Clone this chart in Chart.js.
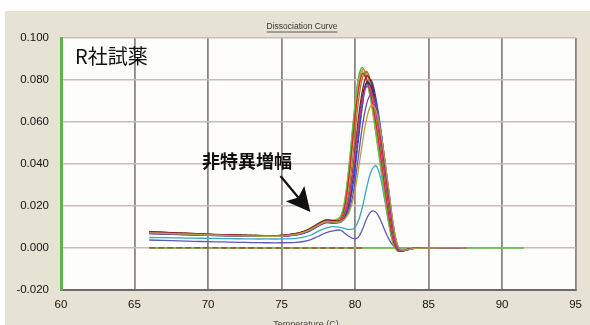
<!DOCTYPE html>
<html>
<head>
<meta charset="utf-8">
<script src="https://cdn.jsdelivr.net/npm/chart.js@4"></script>
<style>
  body { margin: 0; background: #fff; }
  canvas { display: block; }
</style>
</head>
<body>
<canvas id="chart" width="590" height="325"></canvas>
<script>
// temperatures shared by the sample curves
const temps = [66,67,68,69,70,71,72,73,74,75,76,76.5,77,77.5,78,78.5,79,79.3,79.6,79.9,80.2,80.5,80.8,81.1,81.4,81.7,82,82.3,82.6,82.9,83.2,83.6,84,85,86,87.5];

const s1 = [.0076,.0073,.0070,.0067,.0064,.0062,.0060,.0059,.0058,.0059,.0068,.0078,.0094,.0115,.0130,.0128,
  .0145,.0220,.0390,.0610,.0800,.0860,.0800,.0700,.0560,.0410,.0260,.0120,.0020,-.0014,-.0012,-.0005, -.0002,.0000,.0001,.0000];
const s2 = [.0072,.0070,.0068,.0066,.0063,.0061,.0059,.0058,.0057,.0058,.0066,.0075,.0090,.0112,.0128,.0126,
  .0135,.0190,.0330,.0540,.0740,.0850,.0830,.0750,.0620,.0470,.0310,.0160,.0040,-.0012,-.0014,-.0006, -.0002,.0000,.0001,.0000];
const s3 = [.0075,.0073,.0070,.0068,.0065,.0063,.0061,.0060,.0059,.0060,.0068,.0077,.0092,.0114,.0132,.0130,
  .0132,.0175,.0280,.0470,.0680,.0810,.0840,.0780,.0660,.0510,.0350,.0190,.0060,-.0008,-.0014,-.0007, -.0002,.0000,.0001,.0000];
const s4 = [.0070,.0068,.0066,.0064,.0062,.0060,.0058,.0057,.0056,.0057,.0064,.0073,.0088,.0108,.0124,.0122,
  .0133,.0200,.0350,.0560,.0740,.0830,.0800,.0720,.0600,.0455,.0300,.0150,.0035,-.0012,-.0013,-.0006, -.0002,.0000,.0001,.0000];
const s5 = [.0078,.0075,.0072,.0069,.0066,.0064,.0062,.0060,.0059,.0060,.0069,.0079,.0095,.0116,.0133,.0131,
  .0130,.0160,.0240,.0400,.0600,.0750,.0820,.0790,.0690,.0540,.0380,.0220,.0075,-.0004,-.0014,-.0007, -.0002,.0000,.0001,.0000];
const s6 = [.0068,.0066,.0064,.0062,.0060,.0058,.0057,.0056,.0055,.0056,.0062,.0070,.0084,.0104,.0120,.0118,
  .0125,.0148,.0200,.0320,.0500,.0680,.0790,.0800,.0720,.0590,.0430,.0265,.0105,.0008,-.0012,-.0008, -.0002,.0000,.0001,.0000];
const s7 = [.0074,.0072,.0069,.0067,.0064,.0062,.0060,.0059,.0058,.0059,.0067,.0076,.0091,.0112,.0128,.0126,
  .0128,.0150,.0205,.0330,.0510,.0680,.0785,.0790,.0710,.0580,.0420,.0255,.0100,.0005,-.0013,-.0008, -.0002,.0000,.0001,.0000];
const s8 = [.0071,.0069,.0067,.0065,.0062,.0060,.0058,.0057,.0056,.0057,.0064,.0072,.0087,.0107,.0123,.0121,
  .0126,.0155,.0230,.0380,.0570,.0720,.0790,.0765,.0670,.0530,.0375,.0215,.0072,-.0004,-.0014,-.0007, -.0002,.0000,.0001,.0000];
const s9 = [.0073,.0071,.0068,.0066,.0063,.0061,.0059,.0058,.0057,.0058,.0066,.0075,.0090,.0111,.0127,.0125,
  .0128,.0158,.0235,.0385,.0565,.0705,.0770,.0745,.0655,.0520,.0365,.0210,.0070,-.0004,-.0013,-.0007, -.0002,.0000,.0001,.0000];
const s10 = [.0077,.0074,.0071,.0068,.0065,.0063,.0061,.0060,.0059,.0060,.0069,.0079,.0096,.0118,.0134,.0132,
  .0150,.0230,.0400,.0620,.0790,.0840,.0790,.0690,.0550,.0400,.0250,.0115,.0018,-.0014,-.0012,-.0005, -.0002,.0000,.0001,.0000];
const s11 = [.0069,.0067,.0065,.0063,.0061,.0059,.0057,.0056,.0055,.0056,.0063,.0071,.0085,.0105,.0121,.0119,
  .0122,.0140,.0180,.0270,.0420,.0580,.0690,.0730,.0690,.0580,.0430,.0270,.0110,.0010,-.0011,-.0008, -.0002,.0000,.0001,.0000];
const s12 = [.0072,.0070,.0067,.0065,.0062,.0060,.0058,.0057,.0056,.0057,.0065,.0074,.0089,.0109,.0125,.0123,
  .0124,.0138,.0170,.0240,.0360,.0500,.0620,.0680,.0660,.0570,.0430,.0275,.0115,.0012,-.0010,-.0008, -.0002,.0000,.0001,.0000];
const s13 = [.0075,.0073,.0070,.0068,.0065,.0063,.0061,.0060,.0059,.0060,.0068,.0077,.0093,.0114,.0130,.0128,
  .0130,.0152,.0210,.0340,.0520,.0690,.0780,.0780,.0700,.0570,.0415,.0250,.0095,.0003,-.0013,-.0008, -.0002,.0000,.0001,.0000];
// weak samples
const cyanVals = [.0050,.0049,.0048,.0047,.0046,.0045,.0044,.0043,.0043,.0043,.0046,.0052,.0062,.0080,.0095,.0102,
  .0098,.0093,.0089,.0092,.0125,.0195,.0290,.0365,.0392,.0345,.0235,.0115,.0025,-.0008,-.0010,-.0005, -.0002,.0000,.0000,.0000];
const lowVals = [.0038,.0036,.0034,.0032,.0030,.0029,.0027,.0026,.0025,.0025,.0027,.0031,.0040,.0056,.0072,.0082,
  .0085,.0070,.0055,.0045,.0050,.0088,.0142,.0174,.0172,.0138,.0088,.0042,.0010,-.0008,-.0010,-.0005, -.0002,.0000,.0000,.0000];
// negative controls
const negRedTemps = [66, 70, 75, 80.5];
const negRedVals = [0.0001, 0.0001, 0.0000, 0.0000];
const negGreenTemps = [66, 72, 78, 84, 91.5];
const negGreenVals = [0.0000, 0.0000, 0.0000, 0.0000, 0.0000];

const xTicks = [60, 65, 70, 75, 80, 85, 90, 95];
const yTicks = [-0.02, 0, 0.02, 0.04, 0.06, 0.08, 0.1];

function pts(xs, ys) {
  return xs.map((x, i) => ({ x: x, y: ys[i] }));
}

function serie(vals, color, dash) {
  return {
    data: pts(temps, vals),
    borderColor: color,
    borderWidth: 1.3,
    borderDash: dash || [],
    pointRadius: 0,
    tension: 0.35,
    fill: false
  };
}

const datasets = [
  { data: pts(negRedTemps, negRedVals), borderColor: "#b84a30", borderWidth: 1.6, borderDash: [6, 3], pointRadius: 0 },
  serie(s12, "#b4a43c"),
  serie(s11, "#7848b0"),
  serie(s9, "#c43c8c"),
  serie(s5, "#8c1c1c"),
  serie(s8, "#1c2a78"),
  serie(s3, "#9c7a2a"),
  serie(s4, "#d42a2a"),
  serie(s2, "#e08a2a"),
  serie(s6, "#2450c8"),
  serie(s13, "#303030", [3, 2]),
  serie(s7, "#1e9a96", [4, 2]),
  serie(s10, "#6cc04a"),
  serie(s1, "#3fae49"),
  serie(cyanVals, "#3aa6c4"),
  serie(lowVals, "#5c5cb4"),
  { data: pts(negGreenTemps, negGreenVals), borderColor: "#5cb84a", borderWidth: 1.4, pointRadius: 0 }
];

// fondo beige, área blanca, títulos y anotaciones
const decor = {
  id: "decor",
  beforeDraw(chart) {
    const c = chart.ctx, a = chart.chartArea;
    c.save();
    c.fillStyle = "#ffffff";
    c.fillRect(0, 0, chart.width, chart.height);
    c.fillStyle = "#e7e3d4";
    c.fillRect(5, 11, chart.width - 5, chart.height - 11);
    c.fillStyle = "#fdfdfc";
    c.fillRect(a.left, a.top, a.right - a.left, a.bottom - a.top);
    c.restore();
  },
  afterDraw(chart) {
    const c = chart.ctx, x = chart.scales.x, y = chart.scales.y;
    c.save();
    // title
    c.fillStyle = "#333";
    c.font = "8.5px 'Liberation Sans', Arial, sans-serif";
    c.textAlign = "center";
    c.textBaseline = "middle";
    const tx = 302, ty = 27;
    c.fillText("Dissociation Curve", tx, ty);
    const w = c.measureText("Dissociation Curve").width;
    c.strokeStyle = "#333";
    c.lineWidth = 0.8;
    c.beginPath();
    c.moveTo(tx - w / 2, ty + 5);
    c.lineTo(tx + w / 2, ty + 5);
    c.stroke();
    // axis title, cut by the bottom edge
    c.font = "9px 'Liberation Sans', Arial, sans-serif";
    c.fillStyle = "#444";
    c.fillText("Temperature (C)", 306, 325);
    // labels
    c.fillStyle = "#111";
    c.textAlign = "left";
    c.font = "20px 'Noto Sans CJK JP', sans-serif";
    c.fillText("R社試薬", 75, 56);
    c.font = "bold 18px 'Noto Sans CJK JP', sans-serif";
    c.fillText("非特異増幅", 202, 161);
    // arrow
    const x0 = x.getPixelForValue(74.93), y0 = y.getPixelForValue(0.0343);
    const x1 = x.getPixelForValue(76.96), y1 = y.getPixelForValue(0.0171);
    const ang = Math.atan2(y1 - y0, x1 - x0);
    const cs = Math.cos(ang), sn = Math.sin(ang);
    c.strokeStyle = "#111";
    c.lineWidth = 2.2;
    c.beginPath();
    c.moveTo(x0, y0);
    c.lineTo(x1 - 18 * cs, y1 - 18 * sn);
    c.stroke();
    c.fillStyle = "#111";
    c.beginPath();
    c.moveTo(x1, y1);
    c.lineTo(x1 - 24 * cs + 12 * sn, y1 - 24 * sn - 12 * cs);
    c.lineTo(x1 - 19 * cs, y1 - 19 * sn);
    c.lineTo(x1 - 24 * cs - 12 * sn, y1 - 24 * sn + 12 * cs);
    c.closePath();
    c.fill();
    c.restore();
  }
};

new Chart(document.getElementById("chart"), {
  type: "line",
  data: { datasets: datasets },
  options: {
    responsive: false,
    animation: false,
    devicePixelRatio: 1,
    layout: { padding: { left: 0, right: 11, top: 38, bottom: 0 } },
    plugins: { legend: { display: false }, tooltip: { enabled: false } },
    scales: {
      x: {
        type: "linear",
        min: 60,
        max: 95,
        afterBuildTicks: s => { s.ticks = xTicks.map(v => ({ value: v })); },
        afterFit: s => { s.height = 35; },
        ticks: {
          color: "#111",
          font: { size: 11.5, family: "'Liberation Sans', Arial, sans-serif" },
          padding: 8,
          maxRotation: 0
        },
        grid: {
          drawTicks: false,
          color: "#8e8484",
          lineWidth: 1.8
        },
        border: { color: "#6e6a68", width: 2 }
      },
      y: {
        min: -0.02,
        max: 0.1,
        afterBuildTicks: s => { s.ticks = yTicks.map(v => ({ value: v })); },
        afterFit: s => { s.width = 61; },
        ticks: {
          color: "#111",
          font: { size: 11.5, family: "'Liberation Sans', Arial, sans-serif" },
          padding: 12,
          callback: v => v.toFixed(3)
        },
        grid: {
          drawTicks: false,
          color: "#cbbcb8",
          lineWidth: 1.5
        },
        border: { color: "#5fb34e", width: 3 }
      }
    }
  },
  plugins: [decor]
});
</script>
</body>
</html>
